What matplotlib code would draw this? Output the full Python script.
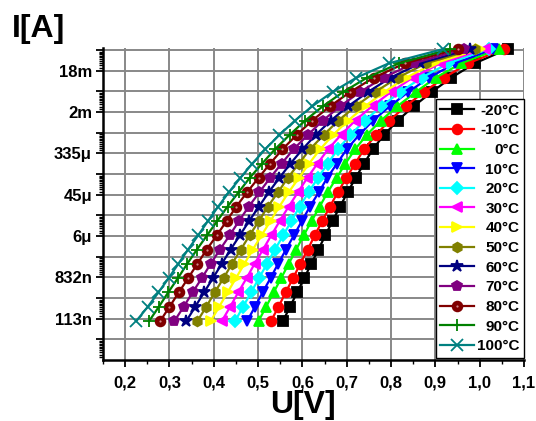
import numpy as np
import matplotlib
matplotlib.use("Agg")
import matplotlib.pyplot as plt
from matplotlib.ticker import FixedLocator, FixedFormatter, NullFormatter

plt.rcParams['font.family'] = ['Liberation Sans', 'DejaVu Sans']
plt.rcParams['font.weight'] = 'bold'

# forward current steps (A)
current = [100e-9, 200e-9, 400e-9, 800e-9, 1.6e-6, 3.2e-6, 6.4e-6, 12.8e-6,
           25.6e-6, 51.2e-6, 102.4e-6, 204.8e-6, 409.6e-6, 819.2e-6,
           1.6384e-3, 3.2768e-3, 6.5536e-3, 13.1072e-3, 26.2144e-3, 52.4288e-3]

temps = ['-20°C', '-10°C', '0°C', '10°C', '20°C', '30°C', '40°C',
         '50°C', '60°C', '70°C', '80°C', '90°C', '100°C']

# voltage (V) per temperature
u_m20 = [0.556, 0.572, 0.588, 0.604, 0.620, 0.636, 0.652, 0.668, 0.685, 0.702,
         0.720, 0.739, 0.759, 0.784, 0.815, 0.851, 0.892, 0.936, 0.989, 1.063]
u_m10 = [0.529, 0.546, 0.562, 0.579, 0.595, 0.612, 0.628, 0.645, 0.662, 0.680,
         0.699, 0.719, 0.739, 0.766, 0.796, 0.833, 0.874, 0.920, 0.974, 1.054]
u_0 = [0.501, 0.518, 0.535, 0.552, 0.569, 0.586, 0.603, 0.621, 0.639, 0.657,
       0.677, 0.697, 0.719, 0.745, 0.777, 0.814, 0.856, 0.901, 0.958, 1.043]
u_10 = [0.475, 0.493, 0.510, 0.528, 0.545, 0.563, 0.581, 0.599, 0.617, 0.637,
        0.656, 0.678, 0.700, 0.728, 0.759, 0.797, 0.839, 0.886, 0.944, 1.031]
u_20 = [0.448, 0.466, 0.484, 0.502, 0.520, 0.538, 0.557, 0.575, 0.594, 0.614,
        0.635, 0.657, 0.680, 0.708, 0.741, 0.778, 0.821, 0.869, 0.929, 1.020]
u_30 = [0.418, 0.437, 0.455, 0.474, 0.492, 0.511, 0.530, 0.549, 0.569, 0.590,
        0.611, 0.634, 0.658, 0.687, 0.719, 0.757, 0.800, 0.849, 0.911, 1.011]
u_40 = [0.393, 0.412, 0.431, 0.450, 0.469, 0.488, 0.508, 0.528, 0.548, 0.569,
        0.592, 0.615, 0.640, 0.669, 0.703, 0.741, 0.785, 0.834, 0.898, 1.000]
u_50 = [0.363, 0.383, 0.402, 0.422, 0.441, 0.461, 0.481, 0.502, 0.522, 0.545,
        0.567, 0.592, 0.617, 0.648, 0.681, 0.720, 0.764, 0.815, 0.879, 0.989]
u_60 = [0.338, 0.358, 0.378, 0.398, 0.418, 0.438, 0.459, 0.480, 0.502, 0.524,
        0.548, 0.573, 0.600, 0.630, 0.664, 0.703, 0.748, 0.799, 0.866, 0.978]
u_70 = [0.311, 0.332, 0.352, 0.373, 0.393, 0.414, 0.436, 0.457, 0.479, 0.503,
        0.527, 0.553, 0.580, 0.612, 0.646, 0.685, 0.730, 0.783, 0.851, 0.964]
u_80 = [0.279, 0.300, 0.321, 0.342, 0.363, 0.384, 0.407, 0.429, 0.451, 0.475,
        0.501, 0.527, 0.555, 0.587, 0.622, 0.662, 0.708, 0.761, 0.831, 0.951]
u_90 = [0.254, 0.276, 0.297, 0.319, 0.340, 0.362, 0.385, 0.408, 0.431, 0.456,
        0.481, 0.509, 0.538, 0.571, 0.606, 0.646, 0.692, 0.746, 0.818, 0.934]
u_100 = [0.225, 0.251, 0.275, 0.298, 0.320, 0.342, 0.365, 0.387, 0.410, 0.434,
         0.460, 0.487, 0.516, 0.548, 0.583, 0.622, 0.668, 0.722, 0.795, 0.918]

voltages = [u_m20, u_m10, u_0, u_10, u_20, u_30, u_40, u_50, u_60, u_70, u_80, u_90, u_100]
colors = ['#000000', '#ff0000', '#00ff00', '#0000ff', '#00ffff', '#ff00ff', '#ffff00',
          '#808000', '#000080', '#800080', '#800000', '#008000', '#008080']
markers = ['s', 'o', '^', 'v', 'D', '<', '>', 'h', '*', 'p', 'o', '+', 'x']
msizes = [6.5, 7, 7.5, 7.5, 6, 7.5, 7.5, 7, 9, 7.5, 7, 9, 8]

xticks = [0.2, 0.3, 0.4, 0.5, 0.6, 0.7, 0.8, 0.9, 1.0, 1.1]
xtick_labels = ['0,2', '0,3', '0,4', '0,5', '0,6', '0,7', '0,8', '0,9', '1,0', '1,1']
ytick_exp = [-16, -14, -12, -10, -8, -6, -4]
ytick_labels = ['113n', '832n', '6μ', '45μ', '335μ', '2m', '18m']

fig = plt.figure(figsize=(5.36, 4.21), dpi=100)
ax = fig.add_axes([103 / 536, 1 - 360 / 421, 421 / 536, 312 / 421])

handles = []
for u, lab, c, m, ms in zip(voltages, temps, colors, markers, msizes):
    ln, = ax.plot(u, current, color=c, marker=m, ms=ms, lw=1.6, mfc=c, mec=c,
                  mew=1.3, clip_on=False, zorder=3)
    if lab == '80°C':
        # shiny sphere marker
        hl, = ax.plot(u, current, ls='none', marker='o', ms=1.6, mfc='#d08a8a',
                      mec='none', clip_on=False, zorder=3.1)
        handles.append((ln, hl))
    else:
        handles.append(ln)

ax.set_yscale('log', base=np.e)
ax.set_xlim(0.15, 1.1)
ax.set_ylim(np.exp(-18), np.exp(-2.9))

# y ticks: one per e-step, labels on even exponents
grid_exp = list(range(-17, -2))
ax.yaxis.set_major_locator(FixedLocator([np.exp(n) for n in grid_exp]))
lab_map = dict(zip(ytick_exp, ytick_labels))
ax.yaxis.set_major_formatter(FixedFormatter([lab_map.get(n, '') for n in grid_exp]))
minor_y = [np.exp(n) * f for n in range(-18, -2, 2)
           for f in (1.15, 1.3, 1.45, 1.6, 1.75, 1.9, 2.05, 2.2, 2.35, 2.5)]
ax.yaxis.set_minor_locator(FixedLocator(minor_y))
ax.yaxis.set_minor_formatter(NullFormatter())

ax.set_xticks(xticks)
ax.set_xticklabels(xtick_labels)
ax.set_xticks(np.arange(0.15, 1.1, 0.1), minor=True)

ax.grid(True, which='major', color='#888888', lw=1.4, zorder=0)
ax.set_axisbelow(True)
for s in ('top', 'right'):
    ax.spines[s].set_visible(False)
for s in ('left', 'bottom'):
    ax.spines[s].set_linewidth(1.8)
    ax.spines[s].set_zorder(4)

ax.tick_params(axis='both', which='major', direction='out', length=5, width=1.3,
               labelsize=12, pad=3)
ax.tick_params(axis='x', which='major', pad=6)
ax.tick_params(axis='both', which='minor', direction='out', length=3, width=1.0)
for t in ax.get_xticklabels() + ax.get_yticklabels():
    t.set_fontweight('bold')

fig.text(0.022, 1 - 37 / 421, 'I[A]', fontsize=23, fontweight='bold', ha='left', va='baseline')
fig.text(0.566, 0.018, 'U[V]', fontsize=23, fontweight='bold', ha='center', va='baseline')

leg = ax.legend(handles, temps, loc='upper right', bbox_to_anchor=(1.0, (360 - 99) / 312),
                borderaxespad=0, fancybox=False, edgecolor='black', framealpha=1,
                handlelength=2.2, handletextpad=0.2, labelspacing=0.37,
                borderpad=0.3, prop={'weight': 'bold', 'size': 11})
leg.get_frame().set_linewidth(1.0)
leg.set_zorder(5)

# right-align the legend labels (offsets in pixels)
fig.canvas.draw()
r = fig.canvas.get_renderer()
texts = leg.get_texts()
widths = [t.get_window_extent(r).width for t in texts]
wmax = max(widths)
for t, w in zip(texts, widths):
    t.set_position((wmax - w, 0))

fig.savefig('out.png', dpi=100)
